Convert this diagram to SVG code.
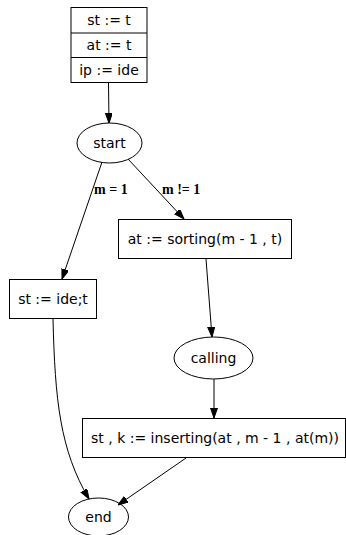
<svg xmlns="http://www.w3.org/2000/svg" width="346" height="535" viewBox="0 0 346 535">
<style>
.shape{fill:none;stroke:#000;stroke-width:1}
.lbl{font-family:"DejaVu Sans",sans-serif;font-size:14px;fill:#000;text-anchor:middle}
.elbl{font-family:"Liberation Serif",serif;font-size:14px;font-weight:bold;fill:#000}
.edge{fill:none;stroke:#000;stroke-width:1;marker-end:url(#arr)}
</style>
<defs>
<marker id="arr" markerUnits="userSpaceOnUse" markerWidth="10" markerHeight="8" refX="10" refY="3.5" orient="auto">
<path d="M0,0 L10,3.5 L0,7 z" fill="#000" stroke="#000"/>
</marker>
</defs>
<rect width="346" height="535" fill="#fff"/>
<g id="init">
<rect class="shape" x="71" y="7.5" width="76" height="75"/>
<line class="shape" x1="71" y1="33" x2="147" y2="33"/>
<line class="shape" x1="71" y1="57.5" x2="147" y2="57.5"/>
<text class="lbl" x="109" y="25">st := t</text>
<text class="lbl" x="109" y="50">at := t</text>
<text class="lbl" x="109" y="75">ip := ide</text>
</g>
<g id="start">
<ellipse class="shape" cx="109.5" cy="143" rx="32.5" ry="20"/>
<text class="lbl" x="109.5" y="148">start</text>
</g>
<g id="sorting">
<rect class="shape" x="118.5" y="219.5" width="173" height="39"/>
<text class="lbl" x="205" y="244">at := sorting(m - 1 , t)</text>
</g>
<g id="stide">
<rect class="shape" x="9.5" y="279.5" width="87" height="39"/>
<text class="lbl" x="53" y="304">st := ide;t</text>
</g>
<g id="calling">
<ellipse class="shape" cx="213.5" cy="358" rx="39.5" ry="21"/>
<text class="lbl" x="213.5" y="363">calling</text>
</g>
<g id="inserting">
<rect class="shape" x="82.5" y="418.5" width="263" height="39"/>
<text class="lbl" x="215" y="443">st , k := inserting(at , m - 1 , at(m))</text>
</g>
<g id="end">
<ellipse class="shape" cx="98.5" cy="517" rx="30" ry="19"/>
<text class="lbl" x="98.5" y="522">end</text>
</g>
<g id="connectors">
<path class="edge" d="M108.5,83 L109,123"/>
<path class="edge" d="M102,162 L62,279"/>
<text class="elbl" x="94" y="194">m = 1</text>
<path class="edge" d="M128,159 L184,219"/>
<text class="elbl" x="162" y="194">m != 1</text>
<path class="edge" d="M53,319 C55,400 60,450 89,499"/>
<path class="edge" d="M206,259 L212,337"/>
<path class="edge" d="M214,379 L214,418"/>
<path class="edge" d="M186,458 L118,505"/>
</g>
</svg>
